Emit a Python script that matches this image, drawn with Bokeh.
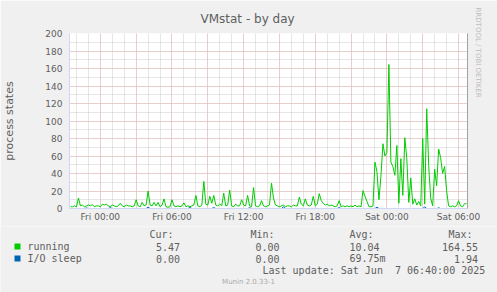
from datetime import datetime, timedelta
from bokeh.plotting import figure
from bokeh.models import (Range1d, FixedTicker, SingleIntervalTicker, DatetimeTickFormatter,
                          Grid, LinearAxis, ColumnDataSource, Title)
from bokeh.layouts import column
from bokeh.embed import file_html
from bokeh.resources import INLINE
from bokeh.core.properties import value

# ---------------- data ----------------
series_start = datetime(2025, 6, 5, 21, 30)   # first sample (10-minute steps)
step_minutes = 10

running = [
    2, 2, 3, 2, 12, 3, 4, 2, 3, 4,
    3, 4.5, 2, 3, 3, 2, 5, 4, 5, 3,
    2, 4, 3, 2, 3, 6, 3, 2, 4, 3,
    3, 2, 3, 10, 3, 2, 7, 3, 4, 20,
    4, 3, 7, 3, 7, 2, 4, 11, 2, 1.5,
    2, 10, 3, 2, 3, 2, 3, 6.5, 2, 3,
    2, 3, 4, 15, 3, 2, 4, 31, 5, 4,
    14, 6, 15, 4, 3, 5, 3, 17.5, 3, 4,
    21, 3, 2, 5, 3, 3, 10, 4, 3, 15,
    3, 2, 24, 3, 2, 3, 9, 3, 2, 3,
    4, 29, 12, 4, 3, 2, 3, 4, 2, 3,
    3, 2, 4, 3, 3, 13, 5, 3, 11, 4,
    3, 4, 14, 3, 5, 17, 9, 6, 4, 5,
    3, 4, 3, 2, 3, 9, 2, 3, 2, 3,
    2, 3, 2, 4, 2, 3, 2, 20.5, 14, 8,
    2, 2, 3, 53, 42, 10, 37, 74, 60, 64,
    164.55, 53, 48, 38, 72, 6, 57, 15, 81, 57,
    7, 35, 5, 11, 4, 8, 3, 80, 5, 114,
    49, 12, 3, 45, 26, 68, 58, 40, 48, 20,
    3, 2, 3, 2, 3, 9, 3, 2, 5.5, 5.47,
]

io_sleep = [0.0] * len(running)
for idx, v in [(8, 0.6), (20, 1.0), (39, 1.5), (60, 1.2), (72, 1.0), (90, 0.8),
               (107, 1.94), (135, 1.0), (154, 1.5), (178, 1.8), (185, 0.7)]:
    io_sleep[idx] = v

series_names = ["running", "I/O sleep"]
series_colors = ["#00CC00", "#0066B3"]
stat_headers = ["Cur:", "Min:", "Avg:", "Max:"]
cur_vals = ["5.47", "0.00"]
min_vals = ["0.00", "0.00"]
avg_vals = ["10.04", "69.75m"]
max_vals = ["164.55", "1.94"]
last_update = "Last update: Sat Jun\u00a0\u00a07 06:40:00 2025"
title_text = "VMstat - by day"
y_label = "process states"
side_text = "RRDTOOL / TOBI OETIKER"
footer_text = "Munin 2.0.33-1"

view_start = datetime(2025, 6, 5, 21, 25)
view_end = datetime(2025, 6, 7, 6, 45)

# ---------------- helpers ----------------
def ms(dt):
    return (dt - datetime(1970, 1, 1)).total_seconds() * 1000.0

times = [series_start + timedelta(minutes=step_minutes * i) for i in range(len(running))]
src = ColumnDataSource(dict(t=times, running=running, io=io_sleep))

major_x = [ms(datetime(2025, 6, 6, 0) + timedelta(hours=6 * k)) for k in range(6)]
grid3 = [ms(datetime(2025, 6, 5, 21) + timedelta(hours=3 * k)) for k in range(13)]
grid1 = [ms(datetime(2025, 6, 5, 21) + timedelta(hours=k)) for k in range(36)]

FONT = "DejaVu Sans"
TXT = "#5E5E5E"
AX = "#CFD6F8"
RED = "#EDB6B6"
GRAY = "#CDCDCD"
BG = "#F0F0F0"

# ---------------- main chart ----------------
p = figure(width=497, height=226, x_axis_type="datetime",
           x_range=Range1d(ms(view_start), ms(view_end)), y_range=Range1d(0, 200),
           output_backend="svg", toolbar_location=None,
           min_border_left=67, min_border_right=30, min_border_top=33, min_border_bottom=18,
           background_fill_color="white", border_fill_color=BG, outline_line_color=None)

p.title.text = title_text
p.title.align = "left"
p.title.offset = 131
p.title.standoff = 16
p.title.text_font = FONT
p.title.text_font_size = "12px"
p.title.text_font_style = "normal"
p.title.text_color = TXT

xa = p.xaxis[0]
xa.ticker = FixedTicker(ticks=major_x)
fmt = "%a %H:%M"
xa.formatter = DatetimeTickFormatter(hours=fmt, hourmin=fmt, days=fmt, minutes=fmt, minsec=fmt)
xa.major_tick_out = 0
xa.major_tick_in = 0
xa.minor_tick_out = 0
xa.minor_tick_in = 0
xa.major_tick_line_color = None
xa.minor_tick_line_color = None
xa.axis_line_color = AX
xa.major_label_text_font = FONT
xa.major_label_text_font_size = "9px"
xa.major_label_text_color = TXT
xa.major_label_standoff = 3

ya = p.yaxis[0]
ya.ticker = SingleIntervalTicker(interval=20, num_minor_ticks=2)
ya.major_tick_out = 0
ya.major_tick_in = 0
ya.minor_tick_out = 0
ya.minor_tick_in = 0
ya.major_tick_line_color = None
ya.minor_tick_line_color = None
ya.axis_line_color = AX
ya.major_label_text_font = FONT
ya.major_label_text_font_size = "9px"
ya.major_label_text_color = TXT
ya.major_label_standoff = 7
ya.axis_label = y_label
ya.axis_label_text_font = FONT
ya.axis_label_text_font_size = "11px"
ya.axis_label_text_font_style = "normal"
ya.axis_label_text_color = TXT
ya.axis_label_standoff = 26

right_ax = LinearAxis(major_label_text_font_size="0px", major_label_text_alpha=0,
                      major_tick_line_color=None, minor_tick_line_color=None,
                      major_tick_out=0, major_tick_in=0, minor_tick_out=0, minor_tick_in=0,
                      axis_line_color="#A0A0A0", major_label_standoff=0,
                      ticker=FixedTicker(ticks=[]))
p.add_layout(right_ax, "right")
p.add_layout(Title(text=side_text, align="left", offset=-26, standoff=12,
                   text_font=FONT, text_font_size="7px", text_font_style="normal",
                   text_color="#BDBDBD"), "right")

p.xgrid.visible = False
xg = Grid(dimension=0, ticker=FixedTicker(ticks=grid3, minor_ticks=grid1),
          grid_line_color=RED, grid_line_dash="1 1",
          minor_grid_line_color=GRAY, minor_grid_line_dash="1 1")
p.add_layout(xg)
yg = p.ygrid[0]
yg.grid_line_color = RED
yg.grid_line_dash = "1 1"
yg.minor_grid_line_color = GRAY
yg.minor_grid_line_dash = "1 1"

p.line("t", "running", source=src, line_color=series_colors[0], line_width=1)
p.line("t", "io", source=src, line_color=series_colors[1], line_width=1)

# ---------------- legend / stats panel ----------------
p2 = figure(width=497, height=66, x_range=Range1d(0, 497), y_range=Range1d(66, 0),
            output_backend="svg", toolbar_location=None,
            x_axis_location=None, y_axis_location=None,
            min_border_left=0, min_border_right=0, min_border_top=0, min_border_bottom=0,
            background_fill_color=BG, border_fill_color=BG, outline_line_color=None)
p2.grid.visible = False
for fig in (p, p2):
    try:
        fig.frame_align = False
    except Exception:
        pass

row_y = [20, 32]
p2.rect(x=[17, 17], y=row_y, width=6, height=6, fill_color=series_colors, line_color=None)

mono = value("DejaVu Sans Mono")
common = dict(text_font=mono, text_font_size="10px", text_color=TXT, text_baseline="middle")
p2.text(x=[149, 250, 349, 448], y=[8] * 4, text=stat_headers, text_align="left", **common)
p2.text(x=[27, 27], y=row_y, text=series_names, text_align="left", **common)
p2.text(x=[179.5, 179.5], y=row_y, text=cur_vals, text_align="right", **common)
p2.text(x=[279, 279], y=row_y, text=min_vals, text_align="right", **common)
p2.text(x=[349, 349], y=row_y, text=avg_vals, text_align="left", **common)
p2.text(x=[477.5, 477.5], y=row_y, text=max_vals, text_align="right", **common)
p2.text(x=[262], y=[44], text=[last_update], text_align="left", **common)
p2.text(x=[248], y=[55.5], text=[footer_text], text_align="center",
        text_font=value(FONT), text_font_size="7px", text_color="#AAAAAA", text_baseline="middle")

layout = column(p, p2, spacing=0)
open("out.html", "w").write(file_html(layout, INLINE))
